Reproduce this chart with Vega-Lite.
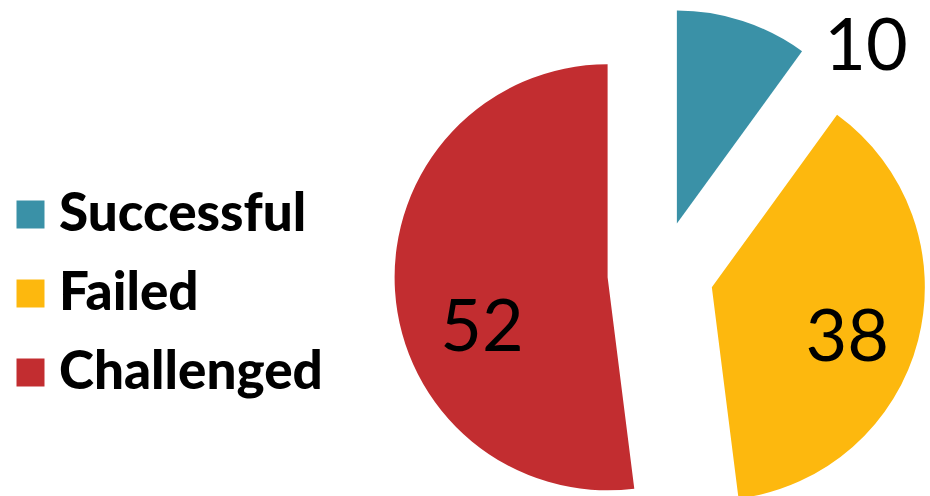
{
  "$schema": "https://vega.github.io/schema/vega-lite/v6.json",
  "width": 930,
  "height": 496,
  "autosize": {"type": "none"},
  "padding": 0,
  "background": "white",
  "config": {"view": {"stroke": null}, "font": "Lato"},
  "data": {
    "values": [
      {"category": "Successful", "value": 10, "idx": 1},
      {"category": "Failed", "value": 38, "idx": 2},
      {"category": "Challenged", "value": 52, "idx": 3}
    ]
  },
  "transform": [
    {"joinaggregate": [{"op": "sum", "field": "value", "as": "total"}]},
    {"window": [{"op": "sum", "field": "value", "as": "cum"}], "sort": [{"field": "idx"}], "frame": [null, 0]},
    {"calculate": "datum.cum - datum.value / 2", "as": "midv"},
    {"calculate": "sin(2 * PI * datum.midv / datum.total)", "as": "ex"},
    {"calculate": "cos(2 * PI * datum.midv / datum.total)", "as": "ey"}
  ],
  "encoding": {
    "x": {"field": "ex", "type": "quantitative", "scale": {"domain": [-1, 1], "range": [607.5, 713.5]}, "axis": null},
    "y": {"field": "ey", "type": "quantitative", "scale": {"domain": [-1, 1], "range": [327, 221]}, "axis": null}
  },
  "layer": [
    {
      "mark": {"type": "arc", "outerRadius": 213, "innerRadius": 0},
      "encoding": {
        "theta": {"field": "value", "type": "quantitative", "stack": true},
        "order": {"field": "idx", "type": "quantitative"},
        "color": {
          "field": "category",
          "type": "nominal",
          "scale": {"domain": ["Successful", "Failed", "Challenged"], "range": ["#3A91A7", "#FDB80E", "#C22D30"]},
          "legend": {
            "title": null,
            "orient": "none",
            "legendX": 4,
            "legendY": 188,
            "symbolType": "square",
            "symbolSize": 784,
            "symbolStrokeWidth": 0,
            "symbolOpacity": 1,
            "labelFont": "Lato",
            "labelFontSize": 53,
            "labelFontWeight": 900,
            "labelColor": "black",
            "labelOffset": 2,
            "labelLimit": 400,
            "rowPadding": 25,
            "padding": 0
          }
        }
      }
    },
    {
      "transform": [{"filter": "datum.category === 'Successful'"}],
      "mark": {"type": "text", "radius": 258, "thetaOffset": 0.508, "fontSize": 72, "font": "Lato", "align": "center", "baseline": "middle", "color": "black"},
      "encoding": {
        "theta": {"field": "midv", "type": "quantitative", "stack": null},
        "text": {"field": "value", "type": "quantitative"}
      }
    },
    {
      "transform": [{"filter": "datum.category === 'Failed'"}],
      "mark": {"type": "text", "radius": 145, "thetaOffset": 0.115, "fontSize": 72, "font": "Lato", "align": "center", "baseline": "middle", "color": "black"},
      "encoding": {
        "theta": {"field": "midv", "type": "quantitative", "stack": null},
        "text": {"field": "value", "type": "quantitative"}
      }
    },
    {
      "transform": [{"filter": "datum.category === 'Challenged'"}],
      "mark": {"type": "text", "radius": 136, "thetaOffset": -0.33, "fontSize": 72, "font": "Lato", "align": "center", "baseline": "middle", "color": "black"},
      "encoding": {
        "theta": {"field": "midv", "type": "quantitative", "stack": null},
        "text": {"field": "value", "type": "quantitative"}
      }
    }
  ]
}
